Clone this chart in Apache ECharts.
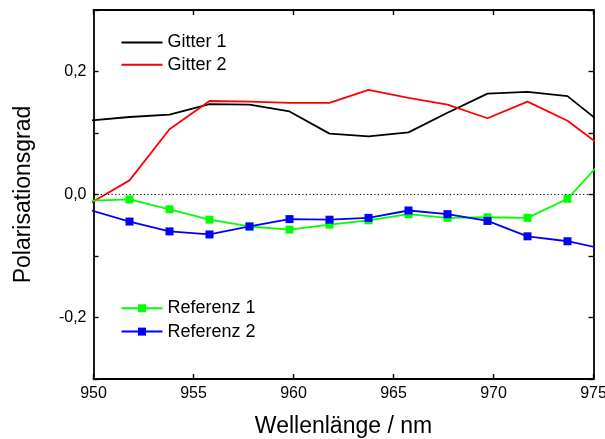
<!DOCTYPE html>
<html>
<head>
<meta charset="utf-8">
<script src="https://cdn.jsdelivr.net/npm/echarts@6/dist/echarts.min.js"></script>
<style>
  html, body { margin: 0; padding: 0; background: #fff; }
  #chart { width: 605px; height: 439px; }
</style>
</head>
<body>
<div id="chart"></div>
<script>
// Wavelength sampling (nm); the first and last samples lie just outside the plotted range
const wavelengths = [949.8, 951.8, 953.8, 955.8, 957.8, 959.8, 961.8, 963.75, 965.75, 967.7, 969.7, 971.7, 973.7, 975.7];

// Degree of polarisation per sample
const gitter1   = [0.120, 0.126, 0.130, 0.147, 0.146, 0.135, 0.099, 0.0945, 0.101, 0.133, 0.164, 0.167, 0.160, 0.108];
const gitter2   = [-0.015, 0.023, 0.106, 0.152, 0.151, 0.149, 0.149, 0.170, 0.157, 0.146, 0.124, 0.151, 0.120, 0.071];
const referenz1 = [-0.010, -0.008, -0.024, -0.041, -0.052, -0.057, -0.049, -0.042, -0.032, -0.038, -0.037, -0.038, -0.007, 0.064];
const referenz2 = [-0.025, -0.044, -0.060, -0.065, -0.052, -0.040, -0.041, -0.038, -0.026, -0.032, -0.043, -0.068, -0.076, -0.090];

const seriesNames = ['Gitter 1', 'Gitter 2', 'Referenz 1', 'Referenz 2'];
const xTicks = [950, 955, 960, 965, 970, 975];

const pairs = ys => wavelengths.map((x, i) => [x, ys[i]]);
const font = 'Arial, "Liberation Sans", sans-serif';

// Labels only on every second tick, with a decimal comma
const fmtY = v => {
  const r = Math.round(v * 10);
  if (r % 2 !== 0 || Math.abs(r) > 2) return '';
  return (v < 0 ? '-' : '') + Math.abs(v).toFixed(1).replace('.', ',');
};

const axisLine = { show: true, onZero: false, lineStyle: { color: '#000', width: 1.8 } };
const axisTick = { show: true, inside: true, length: 5, lineStyle: { color: '#000', width: 1.4 } };

const chart = echarts.init(document.getElementById('chart'), null, { renderer: 'canvas' });
chart.setOption({
  animation: false,
  backgroundColor: '#fff',
  grid: { left: 93.5, right: 11.5, top: 10, bottom: 60, containLabel: false, outerBoundsMode: 'none' },
  legend: [
    {
      // plain lines, no marker
      data: [
        { name: seriesNames[0], itemStyle: { opacity: 0 } },
        { name: seriesNames[1], itemStyle: { opacity: 0 } }
      ],
      orient: 'vertical', left: 120.5, top: 33.5,
      itemWidth: 41, itemHeight: 14, itemGap: 4.3,
      textStyle: { fontFamily: font, fontSize: 18, color: '#000' },
      padding: 0
    },
    {
      data: [seriesNames[2], seriesNames[3]],
      orient: 'vertical', left: 120.5, top: 299.3,
      itemWidth: 41, itemHeight: 10, itemGap: 5.3,
      textStyle: { fontFamily: font, fontSize: 18, color: '#000' },
      padding: 0
    }
  ],
  xAxis: [
    {
      type: 'value', min: 950, max: 975, interval: 5, position: 'bottom',
      name: 'Wellenlänge / nm', nameLocation: 'middle', nameGap: 36,
      nameTextStyle: { fontFamily: font, fontSize: 23, color: '#000' },
      axisLine, axisTick,
      axisLabel: {
        fontFamily: font, fontSize: 16, color: '#000', margin: 7,
        formatter: v => xTicks.includes(v) ? String(v) : ''
      },
      splitLine: { show: false }
    },
    {
      type: 'value', min: 950, max: 975, interval: 5, position: 'top',
      axisLine, axisTick, axisLabel: { show: false }, splitLine: { show: false }
    }
  ],
  yAxis: [
    {
      type: 'value', min: -0.3, max: 0.3, interval: 0.1, position: 'left',
      name: 'Polarisationsgrad', nameLocation: 'middle', nameGap: 58,
      nameTextStyle: { fontFamily: font, fontSize: 23, color: '#000' },
      axisLine, axisTick,
      axisLabel: { fontFamily: font, fontSize: 16, color: '#000', margin: 7, formatter: fmtY },
      splitLine: { show: false }
    },
    {
      type: 'value', min: -0.3, max: 0.3, interval: 0.1, position: 'right',
      axisLine, axisTick, axisLabel: { show: false }, splitLine: { show: false }
    }
  ],
  series: [
    {
      name: seriesNames[0], type: 'line', data: pairs(gitter1), clip: true,
      symbol: 'none', lineStyle: { color: '#000', width: 1.8 }, itemStyle: { color: '#000' },
      markLine: {
        silent: true, symbol: ['none', 'none'], label: { show: false },
        lineStyle: { color: '#000', type: [1.2, 2.4], width: 1 },
        data: [{ yAxis: 0 }]
      },
      z: 3
    },
    {
      name: seriesNames[1], type: 'line', data: pairs(gitter2), clip: true,
      symbol: 'none', lineStyle: { color: '#ff0000', width: 1.8 }, itemStyle: { color: '#ff0000' },
      z: 3
    },
    {
      name: seriesNames[2], type: 'line', data: pairs(referenz1), clip: true,
      symbol: 'rect', symbolSize: 8, showAllSymbol: true,
      lineStyle: { color: '#00ff00', width: 1.8 }, itemStyle: { color: '#00ff00' },
      z: 4
    },
    {
      name: seriesNames[3], type: 'line', data: pairs(referenz2), clip: true,
      symbol: 'rect', symbolSize: 8, showAllSymbol: true,
      lineStyle: { color: '#0000ff', width: 1.8 }, itemStyle: { color: '#0000ff' },
      z: 5
    }
  ]
});
</script>
</body>
</html>
